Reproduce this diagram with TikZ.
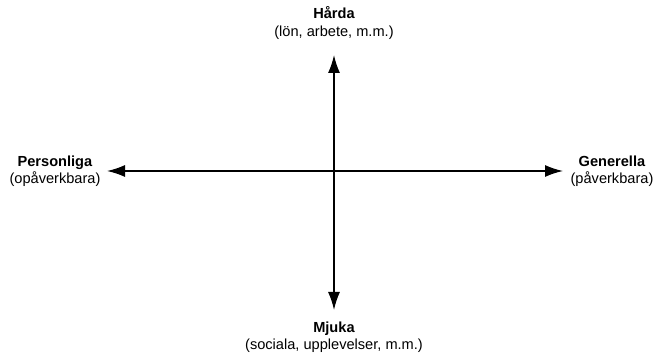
\documentclass[tikz,border=0pt]{standalone}
\usepackage{fontspec}
\setmainfont{Liberation Sans}
\usetikzlibrary{arrows.meta}
\tikzset{
  axis/.style={line width=1.5pt, {Latex[length=18pt,width=12pt]}-{Latex[length=18pt,width=12pt]}},
  lbl/.style={align=center, inner sep=0pt, font=\fontsize{14.6}{17.5}\selectfont}
}
\begin{document}
\begin{tikzpicture}[x=1pt,y=-1pt]
\useasboundingbox (0,0) rectangle (654,358);
\coordinate (T) at (334,55);
\coordinate (B) at (334,310);
\coordinate (L) at (107,171);
\coordinate (R) at (563,171);
\draw[axis] (T) -- (B);
\draw[axis] (L) -- (R);
\node[lbl] (hard) at (334,23) {\textbf{Hårda}\\(lön, arbete, m.m.)};
\node[lbl] (mjuk) at (334,337) {\textbf{Mjuka}\\(sociala, upplevelser, m.m.)};
\node[lbl] (pers) at (55,171) {\textbf{Personliga}\\(opåverkbara)};
\node[lbl] (gen) at (612,171) {\textbf{Generella}\\(påverkbara)};
\end{tikzpicture}
\end{document}
